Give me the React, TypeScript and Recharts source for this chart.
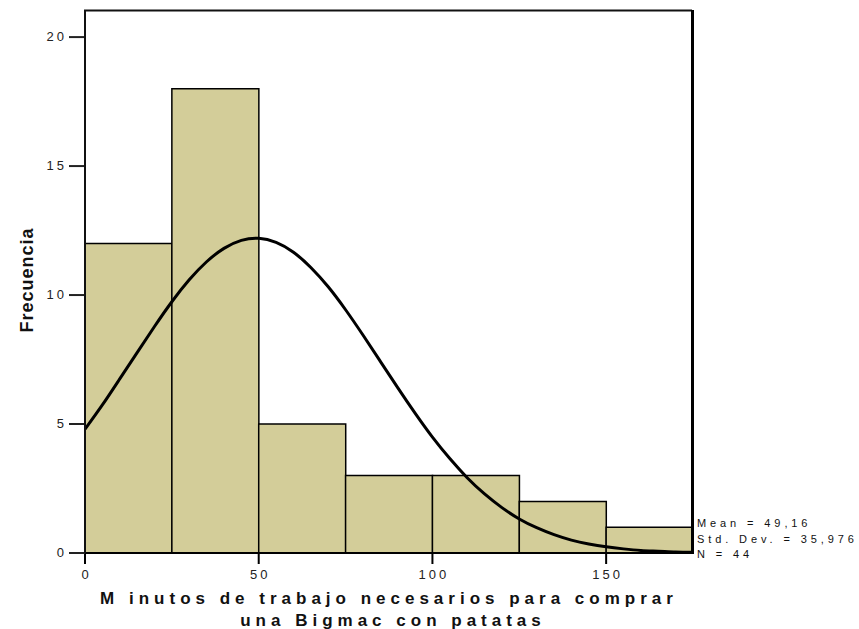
import { ComposedChart, Bar, Line, XAxis, YAxis } from 'recharts';

// histogram bins (minutes) and frequencies
const bins = ['0-25', '25-50', '50-75', '75-100', '100-125', '125-150', '150-175'];
const counts = [12, 18, 5, 3, 3, 2, 1];

// normal curve
const curveX = [0, 5, 10, 15, 20, 25, 30, 35, 40, 45, 50, 55, 60, 65, 70, 75, 80, 85, 90, 95, 100, 105, 110, 115, 120, 125, 130, 135, 140, 145, 150, 155, 160, 165, 170, 175];
const curveY = [4.8, 5.74, 6.75, 7.77, 8.78, 9.74, 10.59, 11.29, 11.81, 12.12, 12.2, 12.04, 11.66, 11.07, 10.32, 9.43, 8.45, 7.43, 6.41, 5.42, 4.49, 3.66, 2.92, 2.29, 1.76, 1.32, 0.98, 0.71, 0.5, 0.35, 0.24, 0.16, 0.1, 0.07, 0.04, 0.03];

const xTicks = [0, 50, 100, 150];
const yTicks = [0, 5, 10, 15, 20];

const stats = ['Mean = 49,16', 'Std. Dev. = 35,976', 'N = 44'];

const barData = bins.map((bin, i) => ({ bin, count: counts[i] }));
const curveData = curveX.map((x, i) => ({ x, y: curveY[i] }));

const FONT = 'Arial, "Liberation Sans", sans-serif';

const YTick = ({ x, y, payload }: any) => (
  <text x={x} y={y} dy={4} textAnchor="end" fontSize={13} letterSpacing={3} fill="#222" fontFamily={FONT}>
    {payload.value}
  </text>
);

const XTick = ({ x, y, payload }: any) => (
  <text x={x + 1.5} y={y} dy={13} textAnchor="middle" fontSize={13} letterSpacing={3} fill="#222" fontFamily={FONT}>
    {payload.value}
  </text>
);

export default function App() {
  return (
    <div style={{ position: 'absolute', left: 0, top: 0, width: 859, height: 629, background: '#fff' }}>
      <ComposedChart
        width={859}
        height={629}
        data={barData}
        margin={{ top: 10, right: 166, left: 0, bottom: 0 }}
        barCategoryGap={0}
        barGap={0}
      >
        <XAxis xAxisId="cat" dataKey="bin" hide height={0} />
        <XAxis
          xAxisId="num"
          type="number"
          dataKey="x"
          domain={[0, 175]}
          ticks={xTicks}
          allowDataOverflow
          height={76}
          tickSize={11}
          tickMargin={2}
          tick={<XTick />}
          axisLine={{ stroke: '#000', strokeWidth: 2 }}
          tickLine={{ stroke: '#000', strokeWidth: 2 }}
        />
        <YAxis
          yAxisId="left"
          domain={[0, 21.05]}
          ticks={yTicks}
          allowDataOverflow
          width={85}
          tickSize={16}
          tickMargin={2}
          tick={<YTick />}
          axisLine={{ stroke: '#000', strokeWidth: 2 }}
          tickLine={{ stroke: '#222', strokeWidth: 2 }}
        />
        <Bar
          xAxisId="cat"
          yAxisId="left"
          dataKey="count"
          fill="#D3CD99"
          stroke="#000"
          strokeWidth={1.5}
          isAnimationActive={false}
        />
        <Line
          xAxisId="num"
          yAxisId="left"
          data={curveData}
          dataKey="y"
          type="natural"
          dot={false}
          stroke="#000"
          strokeWidth={3}
          isAnimationActive={false}
        />
      </ComposedChart>

      <svg width={859} height={629} style={{ position: 'absolute', left: 0, top: 0, pointerEvents: 'none' }}>
        {/* plot frame */}
        <path d="M85 553 V10.5 H692" fill="none" stroke="#111" strokeWidth={2} />
        <path d="M692.5 10 V554" fill="none" stroke="#000" strokeWidth={3} />
        <text
          transform="translate(33,280) rotate(-90)"
          textAnchor="middle"
          fontSize={18}
          fontWeight="bold"
          letterSpacing={1}
          fill="#111"
          fontFamily={FONT}
        >
          Frecuencia
        </text>
        <text x={389} y={604} textAnchor="middle" fontSize={17} fontWeight="bold" letterSpacing={5} fill="#111" fontFamily={FONT}>
          M inutos de trabajo necesarios para comprar
        </text>
        <text x={393} y={626} textAnchor="middle" fontSize={17} fontWeight="bold" letterSpacing={5} fill="#111" fontFamily={FONT}>
          una Bigmac con patatas
        </text>
        {stats.map((s, i) => (
          <text key={s} x={697} y={527 + i * 15.5} fontSize={11} letterSpacing={3.9} fill="#111" fontFamily={FONT}>
            {s}
          </text>
        ))}
      </svg>
    </div>
  );
}
